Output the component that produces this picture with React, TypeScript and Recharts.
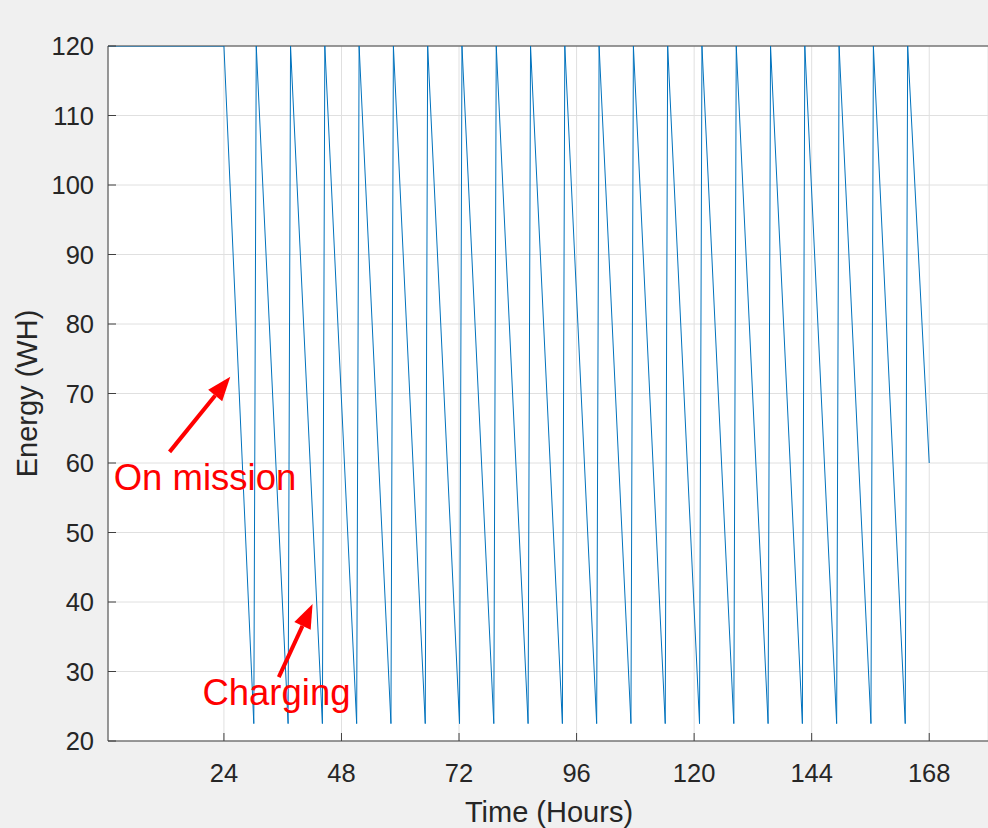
import React from 'react';
import {
  LineChart,
  Line,
  XAxis,
  YAxis,
  CartesianGrid,
  ReferenceLine,
  ReferenceDot,
} from 'recharts';

// time in hours, energy in WH
const hours = [
  0.33, 24,
  30.1, 30.6, 37.1, 37.6, 44.1, 44.6, 51.1, 51.6, 58.1, 58.6,
  65.1, 65.6, 72.1, 72.6, 79.1, 79.6, 86.1, 86.6, 93.1, 93.6,
  100.1, 100.6, 107.1, 107.6, 114.1, 114.6, 121.1, 121.6, 128.1, 128.6,
  135.1, 135.6, 142.1, 142.6, 149.1, 149.6, 156.1, 156.6, 163.1, 163.6,
  168,
];
const energy = [
  120, 120,
  22.5, 120, 22.5, 120, 22.5, 120, 22.5, 120, 22.5, 120,
  22.5, 120, 22.5, 120, 22.5, 120, 22.5, 120, 22.5, 120,
  22.5, 120, 22.5, 120, 22.5, 120, 22.5, 120, 22.5, 120,
  22.5, 120, 22.5, 120, 22.5, 120, 22.5, 120, 22.5, 120,
  60,
];
const xTicks = [24, 48, 72, 96, 120, 144, 168];
const yTicks = [20, 30, 40, 50, 60, 70, 80, 90, 100, 110, 120];

const notes = [
  { text: 'On mission', x: 1.5, y: 56.1 },
  { text: 'Charging', x: 19.6, y: 25.2 },
];
const arrows = [
  { from: { x: 12.9, y: 61.6 }, to: { x: 25.3, y: 72.4 } },
  { from: { x: 35.2, y: 29.2 }, to: { x: 42.1, y: 39.7 } },
];

const data = hours.map((t, i) => ({ t, energy: energy[i] }));

const FONT = '"Liberation Sans", Arial, Helvetica, sans-serif';
const AXIS = '#404040';
const TEXT = '#262626';
const TICK_LEN = 8;

function BottomTick({ x, y, payload }: any) {
  return (
    <g>
      <line x1={x} y1={y} x2={x} y2={y - TICK_LEN} stroke={AXIS} />
      <text x={x} y={y + 41} textAnchor="middle" fontSize={25.5} fill={TEXT} fontFamily={FONT}>
        {payload.value}
      </text>
    </g>
  );
}

function TopTick({ x, y }: any) {
  return <line x1={x} y1={y} x2={x} y2={y + TICK_LEN} stroke={AXIS} />;
}

function LeftTick({ x, y, payload }: any) {
  return (
    <g>
      <line x1={x} y1={y} x2={x + TICK_LEN} y2={y} stroke={AXIS} />
      <text x={x - 14} y={y} dy="0.36em" textAnchor="end" fontSize={25.5} fill={TEXT} fontFamily={FONT}>
        {payload.value}
      </text>
    </g>
  );
}

function RightTick({ x, y }: any) {
  return <line x1={x} y1={y} x2={x - TICK_LEN} y2={y} stroke={AXIS} />;
}

function Arrow({ x1, y1, x2, y2 }: any) {
  const ang = Math.atan2(y2 - y1, x2 - x1);
  const len = 24;
  const half = 9;
  const bx = x2 - len * Math.cos(ang);
  const by = y2 - len * Math.sin(ang);
  const px = -Math.sin(ang) * half;
  const py = Math.cos(ang) * half;
  return (
    <g>
      <line x1={x1} y1={y1} x2={bx} y2={by} stroke="#ff0000" strokeWidth={4} />
      <polygon
        points={`${x2},${y2} ${bx + px},${by + py} ${bx - px},${by - py}`}
        fill="#ff0000"
      />
    </g>
  );
}

export default function App() {
  return (
    <div
      style={{
        position: 'absolute',
        left: 0,
        top: 0,
        width: 988,
        height: 828,
        background: '#f0f0f0',
        fontFamily: FONT,
      }}
    >
      <LineChart width={988} height={828} data={data} margin={{ top: 46, right: 0, bottom: 0, left: 0 }}>
        <CartesianGrid stroke="#e0e0e0" fill="#ffffff" />
        <XAxis
          dataKey="t"
          type="number"
          domain={[0.33, 180]}
          ticks={xTicks}
          allowDataOverflow
          height={87}
          tickSize={0}
          tickMargin={0}
          tickLine={false}
          axisLine={{ stroke: AXIS }}
          tick={<BottomTick />}
          label={{
            content: ({ viewBox }: any) => (
              <text
                x={viewBox.x + viewBox.width / 2 + 1}
                y={822}
                textAnchor="middle"
                fontSize={29}
                fill={TEXT}
                fontFamily={FONT}
              >
                Time (Hours)
              </text>
            ),
          }}
        />
        <XAxis
          xAxisId="top"
          orientation="top"
          type="number"
          domain={[0.33, 180]}
          ticks={xTicks}
          allowDataOverflow
          height={0}
          tickSize={0}
          tickMargin={0}
          tickLine={false}
          axisLine={{ stroke: AXIS }}
          tick={<TopTick />}
          label={{
            content: ({ viewBox }: any) => (
              <text
                x={viewBox.x + viewBox.width / 2 + 1}
                y={34}
                textAnchor="middle"
                fontSize={28.5}
                fontWeight="bold"
                fill="#000000"
                fontFamily={FONT}
              >
                AUV Charge
              </text>
            ),
          }}
        />
        <YAxis
          type="number"
          domain={[20, 120]}
          ticks={yTicks}
          allowDataOverflow
          width={108}
          tickSize={0}
          tickMargin={0}
          tickLine={false}
          axisLine={{ stroke: AXIS }}
          tick={<LeftTick />}
          label={{
            content: ({ viewBox }: any) => {
              const cx = 37;
              const cy = viewBox.y + viewBox.height / 2;
              return (
                <text
                  x={cx}
                  y={cy}
                  transform={`rotate(-90, ${cx}, ${cy})`}
                  textAnchor="middle"
                  fontSize={29}
                  fill={TEXT}
                  fontFamily={FONT}
                >
                  Energy (WH)
                </text>
              );
            },
          }}
        />
        <YAxis
          yAxisId="right"
          orientation="right"
          type="number"
          domain={[20, 120]}
          ticks={yTicks}
          allowDataOverflow
          width={0}
          tickSize={0}
          tickMargin={0}
          tickLine={false}
          axisLine={{ stroke: AXIS }}
          tick={<RightTick />}
        />
        <ReferenceLine y={120} stroke={AXIS} strokeWidth={1} ifOverflow="visible" />
        <Line
          type="linear"
          dataKey="energy"
          stroke="#0072BD"
          strokeWidth={1}
          dot={false}
          isAnimationActive={false}
        />
        {arrows.map((a, i) => (
          <ReferenceLine
            key={`arrow-${i}`}
            segment={[a.from, a.to]}
            ifOverflow="visible"
            shape={(p: any) => <Arrow {...p} />}
          />
        ))}
        {notes.map((n) => (
          <ReferenceDot
            key={n.text}
            x={n.x}
            y={n.y}
            r={0}
            ifOverflow="visible"
            shape={(p: any) => (
              <text x={p.cx} y={p.cy} fontSize={36.5} fill="#ff0000" fontFamily={FONT}>
                {n.text}
              </text>
            )}
          />
        ))}
      </LineChart>
    </div>
  );
}
